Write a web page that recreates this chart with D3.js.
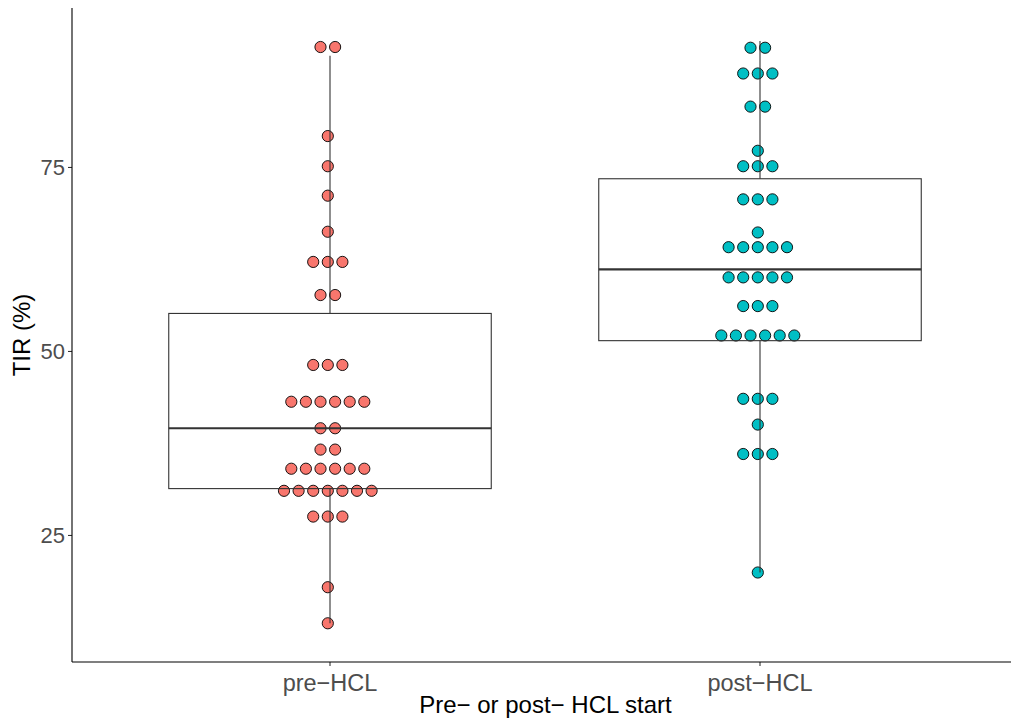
<!DOCTYPE html>
<html>
<head>
<meta charset="utf-8">
<script src="https://cdn.jsdelivr.net/npm/d3@7"></script>
<style>
  html, body { margin: 0; padding: 0; background: #ffffff; }
  svg { display: block; font-family: "Liberation Sans", Arial, sans-serif; }
</style>
</head>
<body>
<svg id="chart" width="1011" height="721"></svg>
<script>
// Groups on the x axis
const groups = ["pre\u2212HCL", "post\u2212HCL"];
const groupColors = ["#F8766D", "#00BFC4"];

// Dot-plot bins: bin centre (TIR %) and number of patients in each bin
const preBins   = [91.3, 79.2, 75.1, 71.1, 66.2, 62.1, 57.6, 48.1, 43.1, 39.5, 36.6, 34.0, 31.0, 27.5, 17.9, 13.0];
const preCounts = [2, 1, 1, 1, 1, 3, 2, 3, 6, 2, 2, 6, 7, 3, 1, 1];
const postBins   = [91.2, 87.7, 83.2, 77.2, 75.1, 70.6, 66.1, 64.1, 60.0, 56.1, 52.1, 43.5, 40.0, 36.0, 19.9];
const postCounts = [2, 3, 2, 1, 3, 3, 1, 5, 5, 3, 6, 3, 1, 3, 1];

// Box-plot summaries: [lower whisker, Q1, median, Q3, upper whisker]
const preBox  = [13.0, 31.3, 39.5, 55.1, 90.1];
const postBox = [19.9, 51.4, 61.1, 73.4, 92.1];

// Axis ticks and titles
const yTicks = [25, 50, 75];
const xTitle = "Pre\u2212 or post\u2212 HCL start";
const yTitle = "TIR (%)";

const svg = d3.select("#chart");

const panel = { left: 72, top: 8, bottom: 662, right: 1018 };

// Discrete x positions with ggplot-style 0.6 expansion on each side
const x = d3.scaleLinear().domain([0.4, 2.6]).range([panel.left, panel.right]);
const xPos = g => x(groups.indexOf(g) + 1);
const y = d3.scaleLinear().domain([7.74, 96.6]).range([panel.bottom, panel.top]);

const boxWidth = x(1.75) - x(1);   // 0.75 of a category
const dotR = 5.6;
const dotStep = 14.6;
const dotShift = -2.2;

const series = [
  { group: groups[0], bins: preBins, counts: preCounts, box: preBox, color: groupColors[0] },
  { group: groups[1], bins: postBins, counts: postCounts, box: postBox, color: groupColors[1] }
];

// Dots, stacked horizontally about the group centre
const dotLayer = svg.append("g");
series.forEach(s => {
  const pts = [];
  s.bins.forEach((b, i) => {
    const n = s.counts[i];
    for (let k = 0; k < n; k++) pts.push({ v: b, k, n });
  });
  dotLayer.selectAll(null)
    .data(pts)
    .join("circle")
    .attr("cx", d => xPos(s.group) + dotShift + (d.k - (d.n - 1) / 2) * dotStep)
    .attr("cy", d => y(d.v))
    .attr("r", dotR)
    .attr("fill", s.color)
    .attr("stroke", "#000000")
    .attr("stroke-width", 0.9);
});

// Boxes and whiskers drawn over the dots, unfilled
const boxLayer = svg.append("g");
series.forEach(s => {
  const cx = xPos(s.group);
  const [lo, q1, med, q3, hi] = s.box;
  const g = boxLayer.append("g").attr("stroke", "#333333").attr("fill", "none");
  g.append("line").attr("x1", cx).attr("x2", cx).attr("y1", y(q3)).attr("y2", y(hi)).attr("stroke-width", 1.1);
  g.append("line").attr("x1", cx).attr("x2", cx).attr("y1", y(q1)).attr("y2", y(lo)).attr("stroke-width", 1.1);
  g.append("rect")
    .attr("x", cx - boxWidth / 2)
    .attr("y", y(q3))
    .attr("width", boxWidth)
    .attr("height", y(q1) - y(q3))
    .attr("stroke-width", 1.1);
  g.append("line")
    .attr("x1", cx - boxWidth / 2).attr("x2", cx + boxWidth / 2)
    .attr("y1", y(med)).attr("y2", y(med))
    .attr("stroke-width", 2.2);
});

// Axes
const yAxis = d3.axisLeft(y).tickValues(yTicks).tickSize(4).tickPadding(3).tickFormat(d3.format("d"));
const yg = svg.append("g").attr("transform", `translate(${panel.left},0)`).call(yAxis);
yg.select(".domain").remove();
yg.selectAll(".tick line").attr("stroke", "#333333").attr("stroke-width", 1.1);
yg.selectAll(".tick text").attr("fill", "#4D4D4D").style("font-size", "22px");

const xg = svg.append("g").attr("transform", `translate(0,${panel.bottom})`);
xg.selectAll(".tick")
  .data(groups)
  .join("g")
  .attr("class", "tick")
  .attr("transform", d => `translate(${xPos(d)},0)`)
  .call(t => {
    t.append("line").attr("y2", 4).attr("stroke", "#333333").attr("stroke-width", 1.1);
    t.append("text").attr("y", 29).attr("text-anchor", "middle")
      .attr("fill", "#4D4D4D").style("font-size", "23.5px").text(d => d);
  });

svg.append("line")
  .attr("x1", panel.left).attr("x2", panel.right)
  .attr("y1", panel.bottom).attr("y2", panel.bottom)
  .attr("stroke", "#000000").attr("stroke-width", 1.1);
svg.append("line")
  .attr("x1", panel.left).attr("x2", panel.left)
  .attr("y1", panel.top).attr("y2", panel.bottom)
  .attr("stroke", "#000000").attr("stroke-width", 1.1);

// Axis titles
svg.append("text")
  .attr("x", (panel.left + 1011) / 2 + 4).attr("y", 713)
  .attr("text-anchor", "middle").attr("fill", "#000000")
  .style("font-size", "24px").text(xTitle);
svg.append("text")
  .attr("transform", `translate(30,${(panel.top + panel.bottom) / 2}) rotate(-90)`)
  .attr("text-anchor", "middle").attr("fill", "#000000")
  .style("font-size", "24px").text(yTitle);
</script>
</body>
</html>
